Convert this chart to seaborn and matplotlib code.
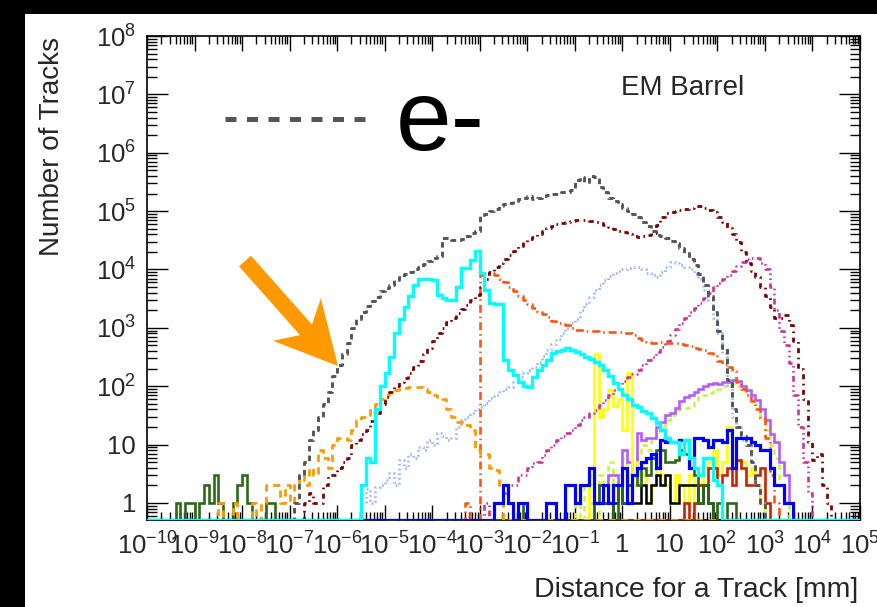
import numpy as np
import pandas as pd
import seaborn as sns
import matplotlib.pyplot as plt
from matplotlib.patches import Rectangle, FancyArrow
from matplotlib.lines import Line2D
from matplotlib.ticker import FixedLocator, LogLocator, NullFormatter

#-----------------------------------------------------
# Data: track-length histograms, 10 bins per decade from 1e-10 to 1e5 mm
# each series = lower edge (log10) of its first bin + counts per bin
#-----------------------------------------------------
LOG_MIN, LOG_MAX, BINS_PER_DEC = -10, 5, 10

gray_start = -6.9
gray = [1, 3, 5, 12, 18, 30, 50, 80, 150, 230, 350, 550, 1000, 1400, 1900, 2400, 2900, 3400,
        4200, 4800, 5500, 6500, 7500, 8500, 9200, 1.0e4, 1.1e4, 1.25e4, 1.4e4, 1.6e4, 1.7e4,
        3.5e4, 3.5e4, 3.2e4, 3.2e4, 3.3e4, 3.7e4, 4.2e4, 4.5e4, 8.5e4, 9e4, 1.0e5, 1.1e5, 1.2e5,
        1.3e5, 1.4e5, 1.5e5, 1.6e5, 1.7e5, 1.8e5, 1.6e5, 1.7e5, 1.8e5, 1.9e5, 2.0e5, 2.0e5,
        2.1e5, 2.1e5, 2.3e5, 3.4e5, 3.9e5, 3.2e5, 4.0e5, 3.9e5, 2.6e5, 2.1e5, 1.7e5, 1.5e5,
        1.3e5, 1.15e5, 1.0e5, 9e4, 8e4, 6.5e4, 5.5e4, 4.5e4, 3.9e4, 3.7e4, 3.4e4, 3.1e4, 2.8e4,
        2.3e4, 1.9e4, 1.5e4, 1.2e4, 8500, 5500, 3500, 1900, 900, 450, 130, 40, 20, 14, 10, 5, 2, 1]

maroon_start = -6.7
maroon = [1, 1.5, 1, 1, 2, 3, 3, 4, 5, 6, 10, 12, 15, 18, 25, 35, 50, 65, 80, 100, 120, 140,
          170, 210, 270, 350, 450, 600, 800, 1000, 1250, 1500, 1800, 2100, 2500, 3000, 3600,
          5000, 7000, 9000, 1.1e4, 1.3e4, 1.5e4, 1.8e4, 2.1e4, 2.5e4, 2.9e4, 3.3e4, 3.6e4, 4.1e4,
          4.6e4, 5.1e4, 5.5e4, 5.9e4, 6.2e4, 6.5e4, 6.8e4, 7.0e4, 7.1e4, 7.0e4, 6.9e4, 6.5e4,
          6.2e4, 5.8e4, 5.4e4, 5.0e4, 4.6e4, 4.3e4, 4.0e4, 3.7e4, 3.6e4, 3.8e4, 3.9e4, 4.2e4,
          5.8e4, 8e4, 9.3e4, 9.8e4, 1.0e5, 1.05e5, 1.1e5, 1.15e5, 1.2e5, 1.2e5, 1.15e5, 1.05e5,
          9.5e4, 8e4, 6.5e4, 5.1e4, 4e4, 3e4, 2e4, 1.3e4, 9500, 7400, 5000, 3500, 2300, 1500,
          1500, 1650, 1100, 600, 200, 60, 11, 5.5, 7, 2, 1]

cyan_start = -5.5
cyan = [2, 6, 5, 40, 100, 170, 320, 800, 1400, 2300, 3500, 5500, 7000, 7000, 7000, 6500, 3600,
        3200, 3000, 3000, 5000, 1.05e4, 1.05e4, 1.45e4, 2.1e4, 8700, 4500, 2700, 2600, 2600,
        280, 190, 155, 120, 100, 97, 145, 190, 230, 280, 370, 400, 420, 450, 420, 390, 350, 316,
        290, 260, 230, 190, 150, 112, 90, 70, 60, 48, 44, 38, 35, 28, 23, 18, 13, 11, 11, 7, 12,
        6, 4, 3, 6, 6, 2.5, 2]

dorange_start = -8.5
dorange = [1, 0, 0, 1, 0, 0, 0, 1, 0, 1, 2, 2, 2, 1, 2, 1, 2, 3, 2, 4, 3, 8, 6, 4, 10, 13, 13,
           12, 18, 26, 30, 32, 44, 50, 60, 72, 78, 85, 88, 92, 97, 97, 95, 88, 80, 72, 66, 60,
           40, 30, 24, 24, 22, 18, 8, 7, 7, 4, 3.7, 1.9]

ored_start = -3.3
ored = [1, 0, 0, 8000, 8700, 8700, 8000, 7000, 6000, 5000, 4200, 3500, 3000, 2600, 2200, 1900,
        1700, 1550, 1300, 1200, 1150, 1100, 1000, 920, 910, 900, 900, 880, 860, 850, 850, 850,
        840, 820, 800, 750, 680, 620, 580, 560, 550, 570, 560, 550, 540, 520, 500, 480, 460,
        440, 410, 370, 330, 270, 240, 210, 180, 120, 90, 70, 55, 40, 28, 13, 3, 1]

lblue_start = -5.5
lblue = [1, 1.7, 1, 1.9, 2, 2.5, 3.2, 2, 5.5, 4, 7, 6, 9, 8, 12, 10, 16, 14, 12, 13, 20, 26, 30,
         35, 40, 44, 52, 62, 71, 80, 90, 97, 120, 145, 170, 190, 215, 260, 330, 420, 520, 650,
         810, 1000, 1200, 1400, 2000, 2600, 3400, 4500, 5500, 6600, 7600, 8700, 9500, 1.0e4,
         1.05e4, 1.1e4, 1.1e4, 1.0e4, 8700, 8000, 7400, 9000, 1.1e4, 1.35e4, 1.3e4, 1.2e4,
         1.1e4, 1.0e4, 8500, 7000, 4500, 3000, 1500, 800, 370, 100, 30, 20, 12, 10, 5, 2, 1]

magenta_start = -2.9
magenta = [1, 0, 1, 1, 1.5, 2, 2, 3, 3, 4, 4.8, 5, 6.5, 8, 10, 12, 14, 16, 18, 22, 26, 30, 35,
           39, 48, 58, 70, 85, 105, 125, 145, 165, 190, 230, 280, 316, 380, 470, 600, 750, 950,
           1200, 1500, 1850, 2200, 2700, 3300, 4000, 5000, 5800, 6800, 8000, 9500, 1.15e4,
           1.35e4, 1.5e4, 1.6e4, 1.55e4, 1.3e4, 1.0e4, 5000, 2000, 900, 500, 250, 70, 20, 5, 1.5]

yellow_start = -0.7
yellow = [3, 350, 30, 40, 85, 45, 60, 18, 170, 2, 5, 3, 1, 2, 5, 3, 2, 1, 3, 2, 1, 3, 1, 2, 4,
          5, 8, 3, 5, 20, 10, 5, 5, 3, 4, 2, 1]

purple_start = -0.6
purple = [1, 2, 1, 3, 3, 2, 8, 5, 3, 16, 12, 13, 13, 20, 24, 32, 35, 42, 55, 66, 70, 78, 90,
          100, 110, 112, 110, 118, 120, 126, 125, 100, 85, 70, 58, 40, 26, 15, 11, 5, 3, 1]

gyellow_start = -1.0
gyellow = [1, 0, 2, 1, 0, 3, 1, 5, 2, 3, 6, 2, 4, 7, 10, 8, 12, 15, 20, 26, 32, 39, 40, 42, 44,
           55, 65, 72, 76, 82, 90, 100, 112, 110, 100, 85, 70, 55, 40, 26, 18, 10, 6, 2, 1]

blue_start = -2.7
blue = [1, 1, 2, 1, 0, 1, 1, 0, 0, 0, 0, 1, 1, 0, 0, 2, 2, 1, 2, 2, 4, 1, 1, 2, 1, 2, 2, 4, 1,
        3, 4, 5, 6, 7, 4, 12, 11, 11, 11, 12, 12, 4, 13, 13, 12, 9, 12, 12, 11, 18, 4, 13, 13,
        13, 11, 10, 8, 8, 4, 2, 2, 1, 1]

green_lo_start = -9.4
green_lo = [1, 0, 1, 1, 0, 1, 2, 1, 3, 1, 0, 0, 1, 2, 3, 1, 0, 0, 0, 1, 1]
green_hi_start = -2.2
green_hi = [1, 0, 0, 0, 0, 0, 0, 0, 0, 0, 0, 0, 0, 0, 0, 0, 1, 2, 1, 1, 0, 2, 1, 2, 3, 2, 4, 3,
            6, 8, 8, 5, 5, 5.5, 8, 7, 4, 3, 1, 2, 1, 0, 1, 0, 1, 1]

black_start = -0.2
black = [1, 2, 1, 2, 1, 1, 2, 1, 2, 3, 2, 3, 1, 1, 2, 2, 2, 2, 1, 2, 1]

red_start = 1.3
red = [1, 0, 1, 2, 2, 4, 4, 2, 3, 4, 2, 5.5, 4, 2, 2, 3, 4, 1]

x_ticks = list(range(-10, 6))
y_ticks = list(range(0, 9))

#-----------------------------------------------------
# Aesthetics
#-----------------------------------------------------
sns.set_style("ticks")
plt.rcParams['font.family'] = ['Liberation Sans', 'DejaVu Sans']
plt.rcParams['mathtext.fontset'] = 'custom'
plt.rcParams['mathtext.rm'] = 'Liberation Sans'
plt.rcParams['mathtext.it'] = 'Liberation Sans:italic'
plt.rcParams['mathtext.bf'] = 'Liberation Sans:bold'
plt.rcParams['lines.solid_joinstyle'] = 'miter'

W, H = 877, 607
YMIN = 0.51
n_bins = (LOG_MAX - LOG_MIN) * BINS_PER_DEC
edges = 10.0 ** (LOG_MIN + np.arange(n_bins + 1) / BINS_PER_DEC)


def full_hist(*segments):
    arr = np.zeros(n_bins)
    for start, counts in segments:
        i0 = int(round((start - LOG_MIN) * BINS_PER_DEC))
        arr[i0:i0 + len(counts)] = counts
    arr = np.where(arr > 0, arr, YMIN)
    return np.append(arr, arr[-1])


# drawing order: last is on top
series = [
    ("greenyellow", [(gyellow_start, gyellow)], "#c8f53a", 1.8, (0, (2.2, 1.8))),
    ("purple", [(purple_start, purple)], "#b65cff", 1.9, "-"),
    ("yellow", [(yellow_start, yellow)], "#ffff00", 1.9, "-"),
    ("red", [(red_start, red)], "#cc2200", 1.9, "-"),
    ("black", [(black_start, black)], "#000000", 1.8, "-"),
    ("green", [(green_lo_start, green_lo), (green_hi_start, green_hi)], "#2a6a16", 1.9, "-"),
    ("lightblue", [(lblue_start, lblue)], "#99b8ff", 2.0, (0, (0.6, 1.1))),
    ("magenta", [(magenta_start, magenta)], "#cc3399", 1.9, (0, (2.2, 1.3, 0.6, 1.3, 0.6, 1.3))),
    ("orangered", [(ored_start, ored)], "#ff5511", 1.9, (0, (3.0, 1.5, 0.6, 1.5))),
    ("darkorange", [(dorange_start, dorange)], "#ff9900", 2.0, (0, (2.6, 1.9))),
    ("maroon", [(maroon_start, maroon)], "#7a0505", 2.0, (0, (1.8, 1.6, 0.6, 1.6))),
    ("gray", [(gray_start, gray)], "#555555", 2.1, (0, (1.9, 1.4))),
    ("blue", [(blue_start, blue)], "#0000ff", 2.3, "-"),
    ("cyan", [(cyan_start, cyan)], "#00ffff", 2.4, "-"),
]

fig = plt.figure(figsize=(W / 100, H / 100), dpi=100)
fig.patch.set_facecolor("black")
fig.add_artist(Rectangle((25 / W, 0), 1 - 25 / W, 1 - 14 / H, transform=fig.transFigure,
                         facecolor="white", edgecolor="none", zorder=-10))

ax = fig.add_axes([147 / W, 1 - 520 / H, (860 - 147) / W, (520 - 36) / H])
ax.set_facecolor("white")

for name, segs, color, lw, ls in series:
    df = pd.DataFrame({"x": edges, "y": full_hist(*segs)})
    sns.lineplot(data=df, x="x", y="y", ax=ax, color=color, lw=lw,
                 drawstyle="steps-post", estimator=None, zorder=3)
    ax.lines[-1].set_linestyle(ls)
    ax.lines[-1].set_dash_capstyle("butt")

ax.set_xscale("log")
ax.set_yscale("log")
ax.set_xlim(10.0 ** LOG_MIN, 10.0 ** LOG_MAX)
ax.set_ylim(YMIN, 1e8)
ax.set_xlabel("")
ax.set_ylabel("")

# ticks (ROOT style: inward on all sides)
def dec_label(k):
    if k == 0:
        return "1"
    if k == 1:
        return "10"
    return r"$10^{%d}$" % k

ax.xaxis.set_major_locator(FixedLocator([10.0 ** k for k in x_ticks]))
ax.set_xticklabels([dec_label(k) for k in x_ticks])
ax.yaxis.set_major_locator(FixedLocator([10.0 ** k for k in y_ticks]))
ax.set_yticklabels([dec_label(k) for k in y_ticks])
ax.xaxis.set_minor_locator(LogLocator(base=10, subs=np.arange(2, 10), numticks=300))
ax.yaxis.set_minor_locator(LogLocator(base=10, subs=np.arange(2, 10), numticks=300))
ax.xaxis.set_minor_formatter(NullFormatter())
ax.yaxis.set_minor_formatter(NullFormatter())
ax.tick_params(which="both", direction="in", top=True, right=True, width=1.0, color="black")
ax.tick_params(axis="x", which="major", length=11, pad=9, labelsize=18.5)
ax.tick_params(axis="x", which="minor", length=5.5)
ax.tick_params(axis="y", which="major", length=15, pad=8, labelsize=18.5)
ax.tick_params(axis="y", which="minor", length=7.5)
for sp in ax.spines.values():
    sp.set_linewidth(1.2)
    sp.set_color("black")

# titles
fig.text(858 / W, 1 - 597 / H, "Distance for a Track [mm]", fontsize=20.5,
         ha="right", va="baseline")
fig.text(59 / W, 1 - 37 / H, "Number of Tracks", fontsize=20, rotation=90,
         rotation_mode="anchor", ha="right", va="baseline")
fig.text(621 / W, 1 - 95 / H, "EM Barrel", fontsize=20, ha="left", va="baseline")

# legend-like annotation for the electron curve
fig.add_artist(Line2D([225 / W, 367 / W], [1 - 119 / H, 1 - 119 / H], transform=fig.transFigure,
                      color="#555555", lw=3.6, linestyle=(0, (2.2, 2.1)), dash_capstyle="butt"))
fig.text(396 / W, 1 - 150 / H, "e-", fontsize=72, ha="left", va="baseline", color="black")

# orange arrow pointing at the e- curve
tail = (245, 261)
tip = (338, 366)
fig.add_artist(FancyArrow(tail[0] / 100, (H - tail[1]) / 100,
                          (tip[0] - tail[0]) / 100, -(tip[1] - tail[1]) / 100,
                          width=0.16, head_width=0.64, head_length=0.62, overhang=0.22,
                          length_includes_head=True, color="#ff9900", lw=0,
                          transform=fig.dpi_scale_trans))

plt.savefig("out.png", dpi=100, facecolor=fig.get_facecolor())
plt.close()
